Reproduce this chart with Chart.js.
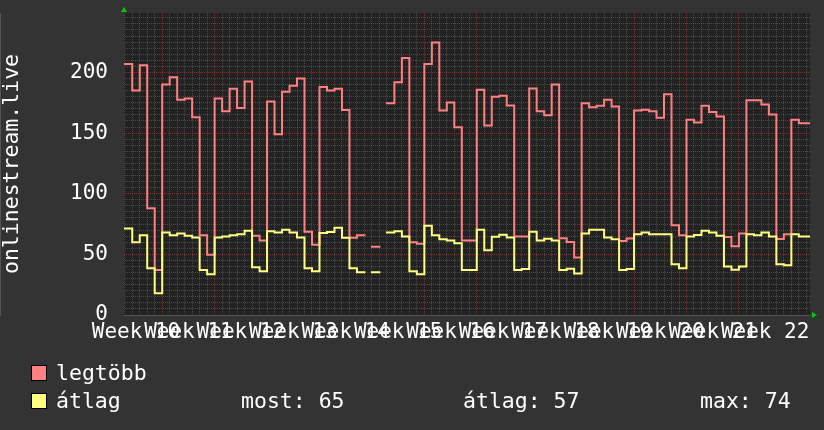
<!DOCTYPE html>
<html>
<head>
<meta charset="utf-8">
<script src="https://cdn.jsdelivr.net/npm/chart.js@4.4.1/dist/chart.umd.min.js"></script>
<style>
  html, body { margin: 0; padding: 0; background: #333333; }
  #wrap { position: relative; width: 824px; height: 430px; overflow: hidden; }
  #c { position: absolute; left: 0; top: 0; }
  .lg { position: absolute; font-family: "DejaVu Sans Mono", monospace; font-size: 21.5px; line-height: 24px; color: #ffffff; white-space: pre; }
  .sw { position: absolute; width: 14px; height: 14px; border: 1px solid #000; }
</style>
</head>
<body>
<div id="wrap">
  <canvas id="c" width="824" height="430"></canvas>
  <div class="sw" style="left:31px;top:365px;background:#ff8080"></div>
  <div class="lg" style="left:56px;top:361px">legtöbb</div>
  <div class="sw" style="left:31px;top:393px;background:#ffff80"></div>
  <div class="lg" style="left:56px;top:389px">átlag</div>
  <div class="lg" style="left:241px;top:389px">most: 65</div>
  <div class="lg" style="left:463px;top:389px">átlag: 57</div>
  <div class="lg" style="left:700px;top:389px">max: 74</div>
</div>
<script>
// napi értékek (nap 0 .. 91), null = nincs adat
const legtobb = [
  207, 185, 206, 88, 37, 190, 196, 177.5, 178.6, 163,
  65.7, 49.7, 178.6, 168, 186.5, 170.6, 192.6, 65.4, 61.5, 176,
  149, 184, 189, 195, 68.7, 58, 188, 185, 186.5, 169,
  63.7, 65.7, null, 56.3, null, 174.5, 192, 212, 60, 58.8,
  207, 224.7, 168.7, 175.3, 154.7, 61.5, 61.5, 185.7, 156.3, 180,
  180.8, 172.8, 64.8, 64.8, 186.8, 168, 164.6, 190, 63.2, 60.2,
  47.5, 174.5, 171.2, 172.5, 177.5, 172, 61, 63, 168.7, 169.2,
  168, 162.6, 182, 74, 65.7, 161, 158.8, 172.5, 167.3, 163.7,
  64.3, 56.6, 67.3, 177, 177, 173.6, 165.4, 62.6, 66.5, 161,
  158, 158
];
const atlag = [
  71.4, 60, 65.7, 38.5, 18, 68, 65.7, 67.3, 65.4, 64,
  37, 33.5, 64, 64.8, 65.7, 66.5, 69.5, 39.3, 36, 69,
  68, 70.3, 68, 64, 38.5, 36, 67.6, 68.4, 72, 63.7,
  38.5, 35.2, null, 35.2, null, 68, 69, 64.8, 36, 33.5,
  73.5, 65.7, 62.4, 61.5, 59.1, 37, 37, 70.3, 53.3, 64.6,
  66.2, 64, 37, 38, 68.7, 61.5, 62.9, 61.5, 37, 38.2,
  34.3, 67.3, 70.3, 70.3, 64, 62.4, 37, 38, 66.5, 68,
  66.5, 66.5, 66.5, 41.8, 38.5, 64.8, 66, 69.5, 68, 65.4,
  40, 37.4, 40, 66.5, 65.7, 68, 64.8, 41.8, 41, 66.5,
  64.8, 64.8
];
const weekLabels = ['Week 10', 'Week 11', 'Week 12', 'Week 13', 'Week 14', 'Week 15', 'Week 16',
                    'Week 17', 'Week 18', 'Week 19', 'Week 20', 'Week 21', 'Week 22'];
const firstWeekStart = -2;   // a "Week 10" kezdőnapja
const yTicks = [0, 50, 100, 150, 200];
const xMin = -0.1, xMax = 91.49;
const yMin = 0, yMax = 249;

const MINOR = 'rgba(150,150,150,0.35)';
const MAJOR = 'rgba(230,70,70,0.45)';
const FONT = '"DejaVu Sans Mono", monospace';

// lépcsős görbe: minden nap egy vízszintes szakasz
function steps(vals) {
  const pts = [];
  vals.forEach((v, i) => {
    pts.push({ x: i, y: v });
    pts.push({ x: i + 1, y: v });
  });
  return pts;
}

const dayTicks = [];
for (let d = Math.ceil(xMin); d <= xMax; d++) dayTicks.push(d);
const weekLines = [], weekMids = [];
weekLabels.forEach((_, i) => {
  weekLines.push(firstWeekStart + 7 * (i + 1));
  weekMids.push(firstWeekStart + 7 * i + 3.5);
});
const minorY = [];
for (let v = 5; v < yMax; v += 5) minorY.push(v);

const setTicks = arr => s => { s.ticks = arr.map(v => ({ value: v })); };
// a tengelyek ne toljanak a rajzterületen
const noPad = s => { s.paddingTop = 0; s.paddingBottom = 0; s.paddingLeft = 0; s.paddingRight = 0; };

const bgPlugin = {
  id: 'bg',
  beforeDraw(chart) {
    const { ctx, chartArea: a } = chart;
    ctx.save();
    ctx.fillStyle = '#333333';
    ctx.fillRect(0, 0, chart.width, chart.height);
    ctx.fillStyle = '#222222';
    ctx.fillRect(a.left, a.top, a.right - a.left, a.bottom - a.top);
    ctx.restore();
  },
  afterDraw(chart) {
    const { ctx, chartArea: a } = chart;
    ctx.save();
    ctx.fillStyle = '#00cc00';
    ctx.beginPath();
    ctx.moveTo(a.left - 3, a.top - 1);
    ctx.lineTo(a.left + 3, a.top - 1);
    ctx.lineTo(a.left, a.top - 6);
    ctx.fill();
    ctx.beginPath();
    ctx.moveTo(a.right + 2, a.bottom - 3);
    ctx.lineTo(a.right + 2, a.bottom + 3);
    ctx.lineTo(a.right + 7, a.bottom);
    ctx.fill();
    ctx.restore();
  }
};

Chart.defaults.font.family = FONT;
Chart.defaults.color = '#ffffff';

new Chart(document.getElementById('c'), {
  type: 'line',
  data: {
    datasets: [
      { label: 'átlag', data: steps(atlag), borderColor: '#ffff80', borderWidth: 2, order: 0,
        xAxisID: 'x', yAxisID: 'y' },
      { label: 'legtöbb', data: steps(legtobb), borderColor: '#ff8080', borderWidth: 2, order: 1,
        xAxisID: 'x', yAxisID: 'y' }
    ]
  },
  options: {
    responsive: false,
    animation: false,
    events: [],
    parsing: false,
    spanGaps: false,
    elements: { point: { radius: 0 }, line: { tension: 0, fill: false, borderCapStyle: 'square' } },
    layout: { padding: { top: 13, right: 14, bottom: 85, left: 0 } },
    plugins: { legend: { display: false }, tooltip: { enabled: false } },
    scales: {
      x: {
        type: 'linear', position: 'bottom', min: xMin, max: xMax,
        afterBuildTicks: setTicks(dayTicks),
        afterFit: s => { s.height = 0; noPad(s); },
        ticks: { display: false },
        grid: { color: c => weekLines.includes(c.tick.value) ? 'transparent' : MINOR, drawTicks: false },
        border: { display: false, dash: [1, 1] }
      },
      xWeek: {
        type: 'linear', position: 'bottom', min: xMin, max: xMax,
        afterBuildTicks: setTicks(weekLines),
        afterFit: s => { s.height = 0; noPad(s); },
        ticks: { display: false },
        grid: { color: MAJOR, drawTicks: false },
        border: { display: false, dash: [1, 1] }
      },
      xLab: {
        type: 'linear', position: 'bottom', min: xMin, max: xMax,
        afterBuildTicks: setTicks(weekMids),
        afterFit: s => { s.height = 30; noPad(s); },
        ticks: {
          autoSkip: false, maxRotation: 0, minRotation: 0, padding: 5,
          font: { size: 21 }, color: '#ffffff',
          callback: (v, i) => weekLabels[i]
        },
        grid: { display: false, drawTicks: false },
        border: { display: true, color: '#555555', width: 1 }
      },
      y: {
        type: 'linear', position: 'left', min: yMin, max: yMax,
        afterBuildTicks: setTicks(yTicks),
        afterFit: s => { s.width = 124; noPad(s); },
        ticks: { padding: 16, font: { size: 21 }, color: '#ffffff' },
        grid: { color: c => c.tick.value === 0 ? 'transparent' : MAJOR, drawTicks: false },
        border: { display: false, dash: [1, 1] },
        title: { display: true, text: 'onlinestream.live', color: '#ffffff', font: { size: 21.5 }, padding: 0 }
      },
      yMinor: {
        type: 'linear', position: 'left', min: yMin, max: yMax,
        afterBuildTicks: setTicks(minorY),
        afterFit: s => { s.width = 0; noPad(s); },
        ticks: { display: false },
        grid: { color: c => c.tick.value % 50 === 0 ? 'transparent' : MINOR, drawTicks: false },
        border: { display: true, color: '#555555', width: 1, dash: [1, 1] }
      }
    }
  },
  plugins: [bgPlugin]
});
</script>
</body>
</html>
